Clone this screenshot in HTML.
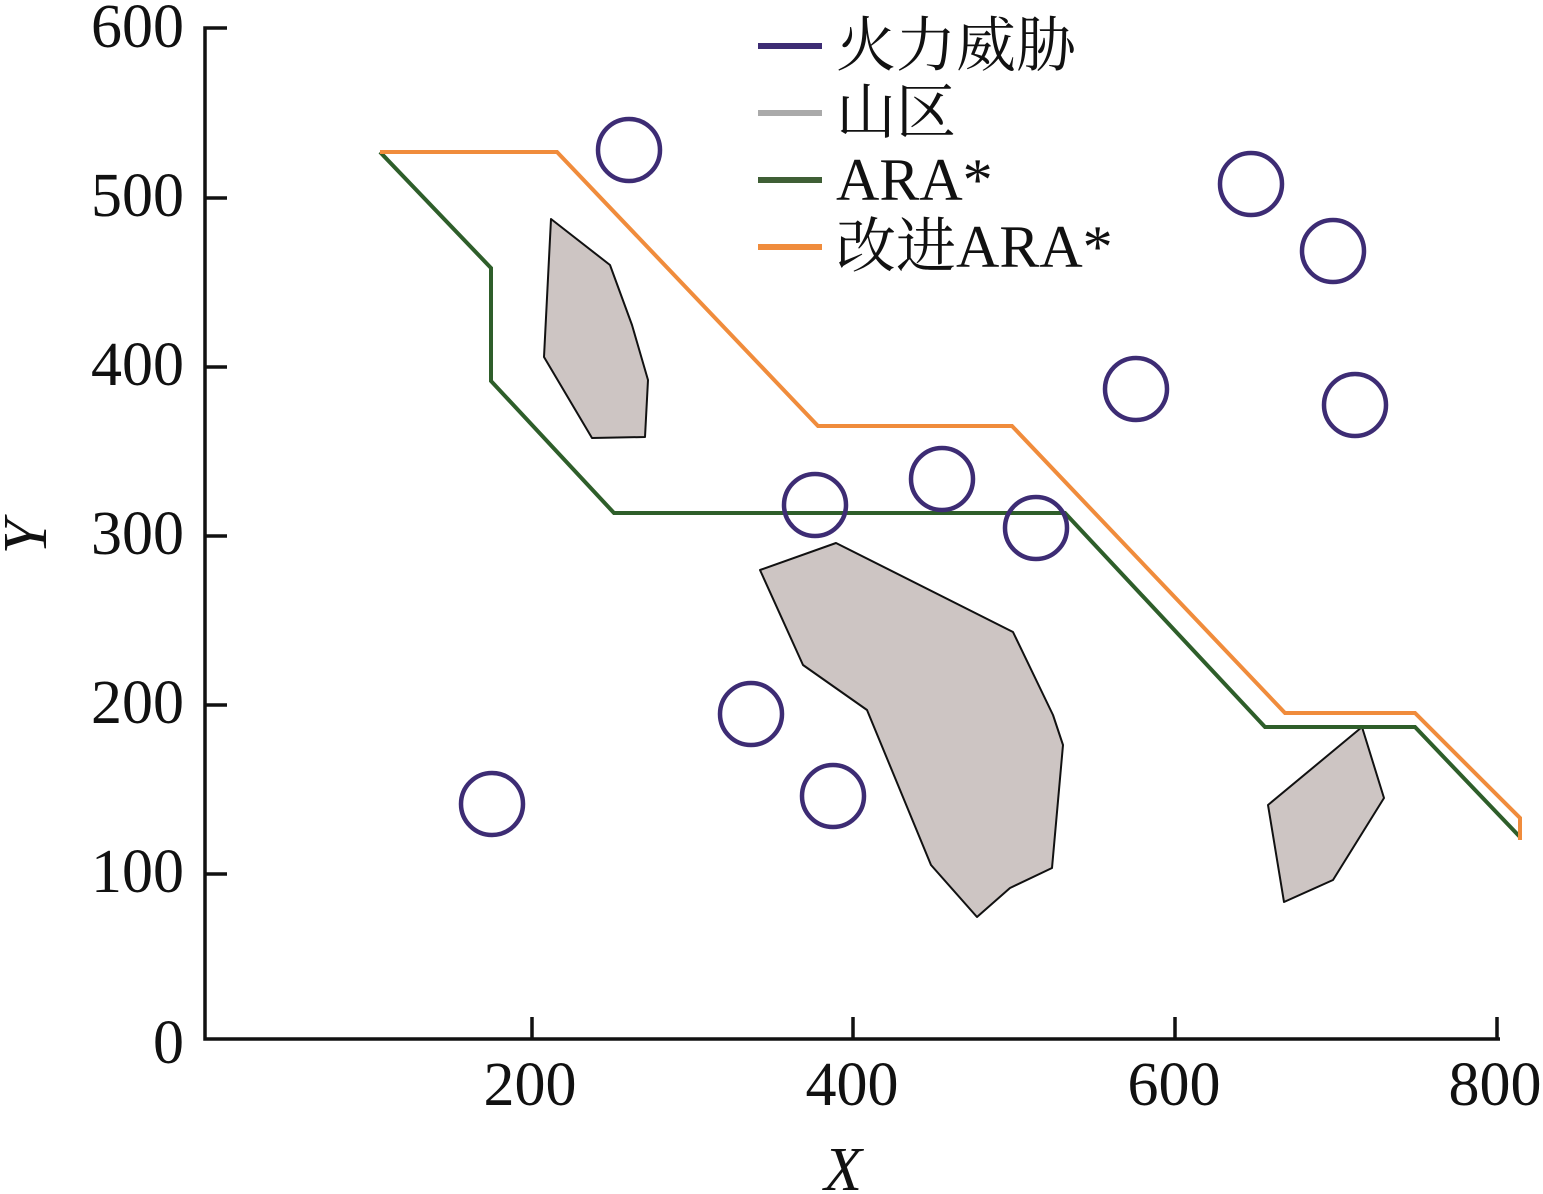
<!DOCTYPE html>
<html><head><meta charset="utf-8"><style>html,body{margin:0;padding:0;background:#fff}svg{display:block}
.t{font-family:"Liberation Serif",serif;font-size:62px;fill:#111}
.l{font-family:"Liberation Serif","Noto Serif CJK SC",serif;font-size:60px;fill:#111}
</style></head>
<body>
<svg width="1543" height="1194" viewBox="0 0 1543 1194" xmlns="http://www.w3.org/2000/svg">
<g fill="#cdc5c3" stroke="#111" stroke-width="2" stroke-linejoin="round">
<polygon points="551,219 610,265 632,325 648,380 645,437 592,438 544,357"/>
<polygon points="760,570 836,543 1013,632 1053,715 1063,745 1052,868 1010,888 977,917 931,865 867,710 803,665"/>
<polygon points="1268,805 1362,727 1384,798 1333,880 1284,902"/>
</g>
<polyline fill="none" stroke="#2e5e2a" stroke-width="4" points="380,152 491,268 491,381 614,513 1065,513 1265,727 1415,727 1520,837"/>
<polyline fill="none" stroke="#f08c3c" stroke-width="4" points="380,152 557,152 818,426 1012,426 1285,713 1415,713 1520,818 1520,840"/>
<g fill="none" stroke="#3d2c74" stroke-width="4.5">
<circle cx="629" cy="150" r="31"/><circle cx="1251" cy="184" r="31"/><circle cx="1333" cy="251" r="31"/>
<circle cx="1136" cy="389" r="31"/><circle cx="1355" cy="405" r="31"/><circle cx="942" cy="479" r="31"/>
<circle cx="815" cy="505" r="31"/><circle cx="1036" cy="528" r="31"/><circle cx="751" cy="714" r="31"/>
<circle cx="833" cy="796" r="31"/><circle cx="492" cy="804" r="31"/>
</g>
<g stroke="#111" stroke-width="3.5" fill="none">
<polyline points="227,28 205,28 205,1039 1500,1039"/>
<line x1="205" y1="198" x2="227" y2="198"/><line x1="205" y1="367" x2="227" y2="367"/>
<line x1="205" y1="536" x2="227" y2="536"/><line x1="205" y1="705" x2="227" y2="705"/>
<line x1="205" y1="874" x2="227" y2="874"/>
<line x1="532" y1="1039" x2="532" y2="1017"/><line x1="853" y1="1039" x2="853" y2="1017"/>
<line x1="1175" y1="1039" x2="1175" y2="1017"/><line x1="1497" y1="1039" x2="1497" y2="1017"/>
</g>
<g class="t" text-anchor="end">
<text x="184" y="47">600</text><text x="184" y="216">500</text><text x="184" y="385">400</text>
<text x="184" y="554">300</text><text x="184" y="723">200</text><text x="184" y="892">100</text>
<text x="184" y="1063">0</text>
</g>
<g class="t" text-anchor="middle">
<text x="530" y="1105">200</text><text x="852" y="1105">400</text><text x="1174" y="1105">600</text><text x="1495" y="1105">800</text>
<text x="843" y="1190" font-style="italic">X</text>
<text transform="translate(46,537) rotate(-90)" font-style="italic">Y</text>
</g>
<g stroke-width="6">
<line x1="758" y1="46" x2="822" y2="46" stroke="#3d2c74"/>
<line x1="758" y1="113" x2="822" y2="113" stroke="#aaa"/>
<line x1="758" y1="180" x2="822" y2="180" stroke="#3f5f35"/>
<line x1="758" y1="247" x2="822" y2="247" stroke="#f08c3c"/>
</g>
<g class="l">
<text x="836" y="66">火力威胁</text>
<text x="836" y="133">山区</text>
<text x="836" y="200">ARA*</text>
<text x="836" y="267">改进ARA*</text>
</g>
</svg>
</body></html>
